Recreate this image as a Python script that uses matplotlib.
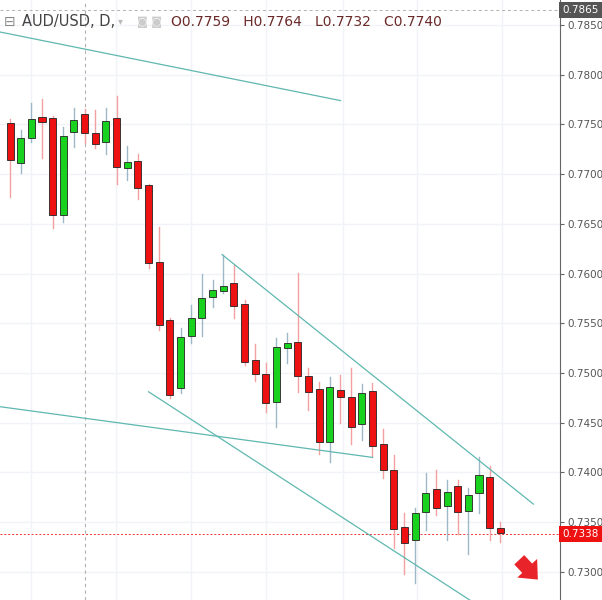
import matplotlib
matplotlib.use("Agg")
import matplotlib.pyplot as plt
from matplotlib.patches import Rectangle

opens  = [0.7751,0.7711,0.7736,0.7757,0.7756,0.7659,0.7742,0.7760,0.7741,0.7732,0.7756,0.7706,0.7713,0.7689,0.7612,0.7553,0.7485,0.7537,0.7555,0.7576,0.7582,0.7590,0.7569,0.7513,0.7499,0.7471,0.7525,0.7531,0.7497,0.7484,0.7430,0.7483,0.7476,0.7449,0.7482,0.7428,0.7402,0.7345,0.7332,0.7360,0.7383,0.7366,0.7386,0.7361,0.7379,0.7395,0.7344]
highs  = [0.7755,0.7744,0.7772,0.7776,0.7758,0.7747,0.7767,0.7766,0.7765,0.7767,0.7779,0.7728,0.7720,0.7690,0.7647,0.7555,0.7545,0.7568,0.7600,0.7593,0.7619,0.7609,0.7573,0.7529,0.7510,0.7535,0.7540,0.7601,0.7505,0.7491,0.7496,0.7498,0.7505,0.7489,0.7490,0.7444,0.7417,0.7359,0.7364,0.7399,0.7402,0.7392,0.7392,0.7384,0.7415,0.7406,0.7350]
lows   = [0.7677,0.7701,0.7732,0.7716,0.7646,0.7652,0.7727,0.7731,0.7726,0.7720,0.7690,0.7694,0.7675,0.7606,0.7543,0.7475,0.7480,0.7530,0.7537,0.7566,0.7580,0.7555,0.7508,0.7492,0.7461,0.7446,0.7510,0.7481,0.7463,0.7418,0.7410,0.7450,0.7428,0.7432,0.7415,0.7394,0.7324,0.7298,0.7289,0.7342,0.7357,0.7332,0.7338,0.7318,0.7359,0.7332,0.7330]
closes = [0.7714,0.7736,0.7755,0.7752,0.7659,0.7738,0.7754,0.7741,0.7730,0.7753,0.7707,0.7712,0.7686,0.7611,0.7548,0.7478,0.7536,0.7555,0.7575,0.7583,0.7587,0.7567,0.7511,0.7499,0.7470,0.7526,0.7530,0.7497,0.7481,0.7430,0.7486,0.7476,0.7446,0.7480,0.7426,0.7402,0.7343,0.7329,0.7359,0.7379,0.7364,0.7380,0.7360,0.7377,0.7397,0.7344,0.7339]
yticks = [0.7300,0.7350,0.7400,0.7450,0.7500,0.7550,0.7600,0.7650,0.7700,0.7750,0.7800,0.7850]
trendlines = [((-0.94,0.7843),(31.0,0.7774)),
              ((19.9,0.7619),(49.1,0.7368)),
              ((13.0,0.7481),(43.2,0.7271)),
              ((-0.94,0.7466),(34.0,0.7415))]
last_price = 0.7338
top_price = 0.7865

fig = plt.figure(figsize=(6.02,6.00), dpi=100)
ax = fig.add_axes([0,0,560/602,1])
ax.set_xlim(-0.94,51.6)
ax.set_ylim(0.72715,0.78752)
for x in [2,9.9,17,24,31.2,38.2,46.2]:
    ax.axvline(x,color='#f0f3f8',lw=1,zorder=0)
for y in yticks:
    ax.axhline(y,color='#f0f3f8',lw=1,zorder=0)
green='#19d21f'; red='#ee1111'
for i,(o,h,l,c) in enumerate(zip(opens,highs,lows,closes)):
    col = green if c>=o else red
    wc = '#9fb8c8' if c>=o else '#f4a0a0'
    ax.plot([i,i],[l,h],color=wc,lw=1,zorder=2)
    ax.add_patch(Rectangle((i-0.33,min(o,c)),0.66,max(abs(c-o),0.00005),
                 facecolor=col,edgecolor='#222222',lw=0.6,zorder=3))
for (x0,y0),(x1,y1) in trendlines:
    ax.plot([x0,x1],[y0,y1],color='#5fb8b0',lw=0.9,zorder=4)
ax.axvline(7.04,color='#b0b0b0',lw=0.8,ls=(0,(3,3)),zorder=1)
ax.axhline(last_price,color='#ee3333',lw=0.7,ls=(0,(2,2)),zorder=1)
ax.axhline(top_price,color='#b0b0b0',lw=0.7,ls=(0,(3,3)),zorder=1)
ax.annotate("",xy=(49.7,0.7290),xytext=(47.6,0.7314),
            arrowprops=dict(arrowstyle="simple,head_length=0.8,head_width=1.4,tail_width=0.7",
                            color='#e8232a',lw=0,mutation_scale=14),zorder=5)
for s in ['top','left','bottom']:
    ax.spines[s].set_visible(False)
ax.spines['right'].set_color('#666666')
ax.yaxis.tick_right()
ax.set_yticks(yticks)
ax.set_yticklabels([f"{v:.4f}" for v in yticks],fontsize=7.5,color='#555555')
ax.tick_params(axis='y',length=3,color='#666666',pad=2)
ax.set_xticks([])
ax.text(1.004,last_price,f"{last_price:.4f}",transform=ax.get_yaxis_transform(),va='center',ha='left',
        fontsize=7.5,color='white',bbox=dict(boxstyle='square,pad=0.3',fc='#ee1111',ec='none'),clip_on=False)
ax.text(1.004,top_price,f"{top_price:.4f}",transform=ax.get_yaxis_transform(),va='center',ha='left',
        fontsize=7.5,color='white',bbox=dict(boxstyle='square,pad=0.3',fc='#555555',ec='none'),clip_on=False)
fig.text(22/602,1-22/600,"AUD/USD, D,",fontsize=10.5,color='#444444',va='center')
fig.text(4/602,1-22/600,"⊟",fontsize=10,color='#888888',va='center')
fig.text(118/602,1-21/600,"▾",fontsize=7,color='#bbbbbb',va='center')
fig.text(137/602,1-22/600,"◙ ◙",fontsize=8,color='#cccccc',va='center')
fig.text(171/602,1-22/600,"O0.7759   H0.7764   L0.7732   C0.7740",fontsize=10,color='#6b2a2a',va='center')
fig.savefig("out.png",dpi=100)
